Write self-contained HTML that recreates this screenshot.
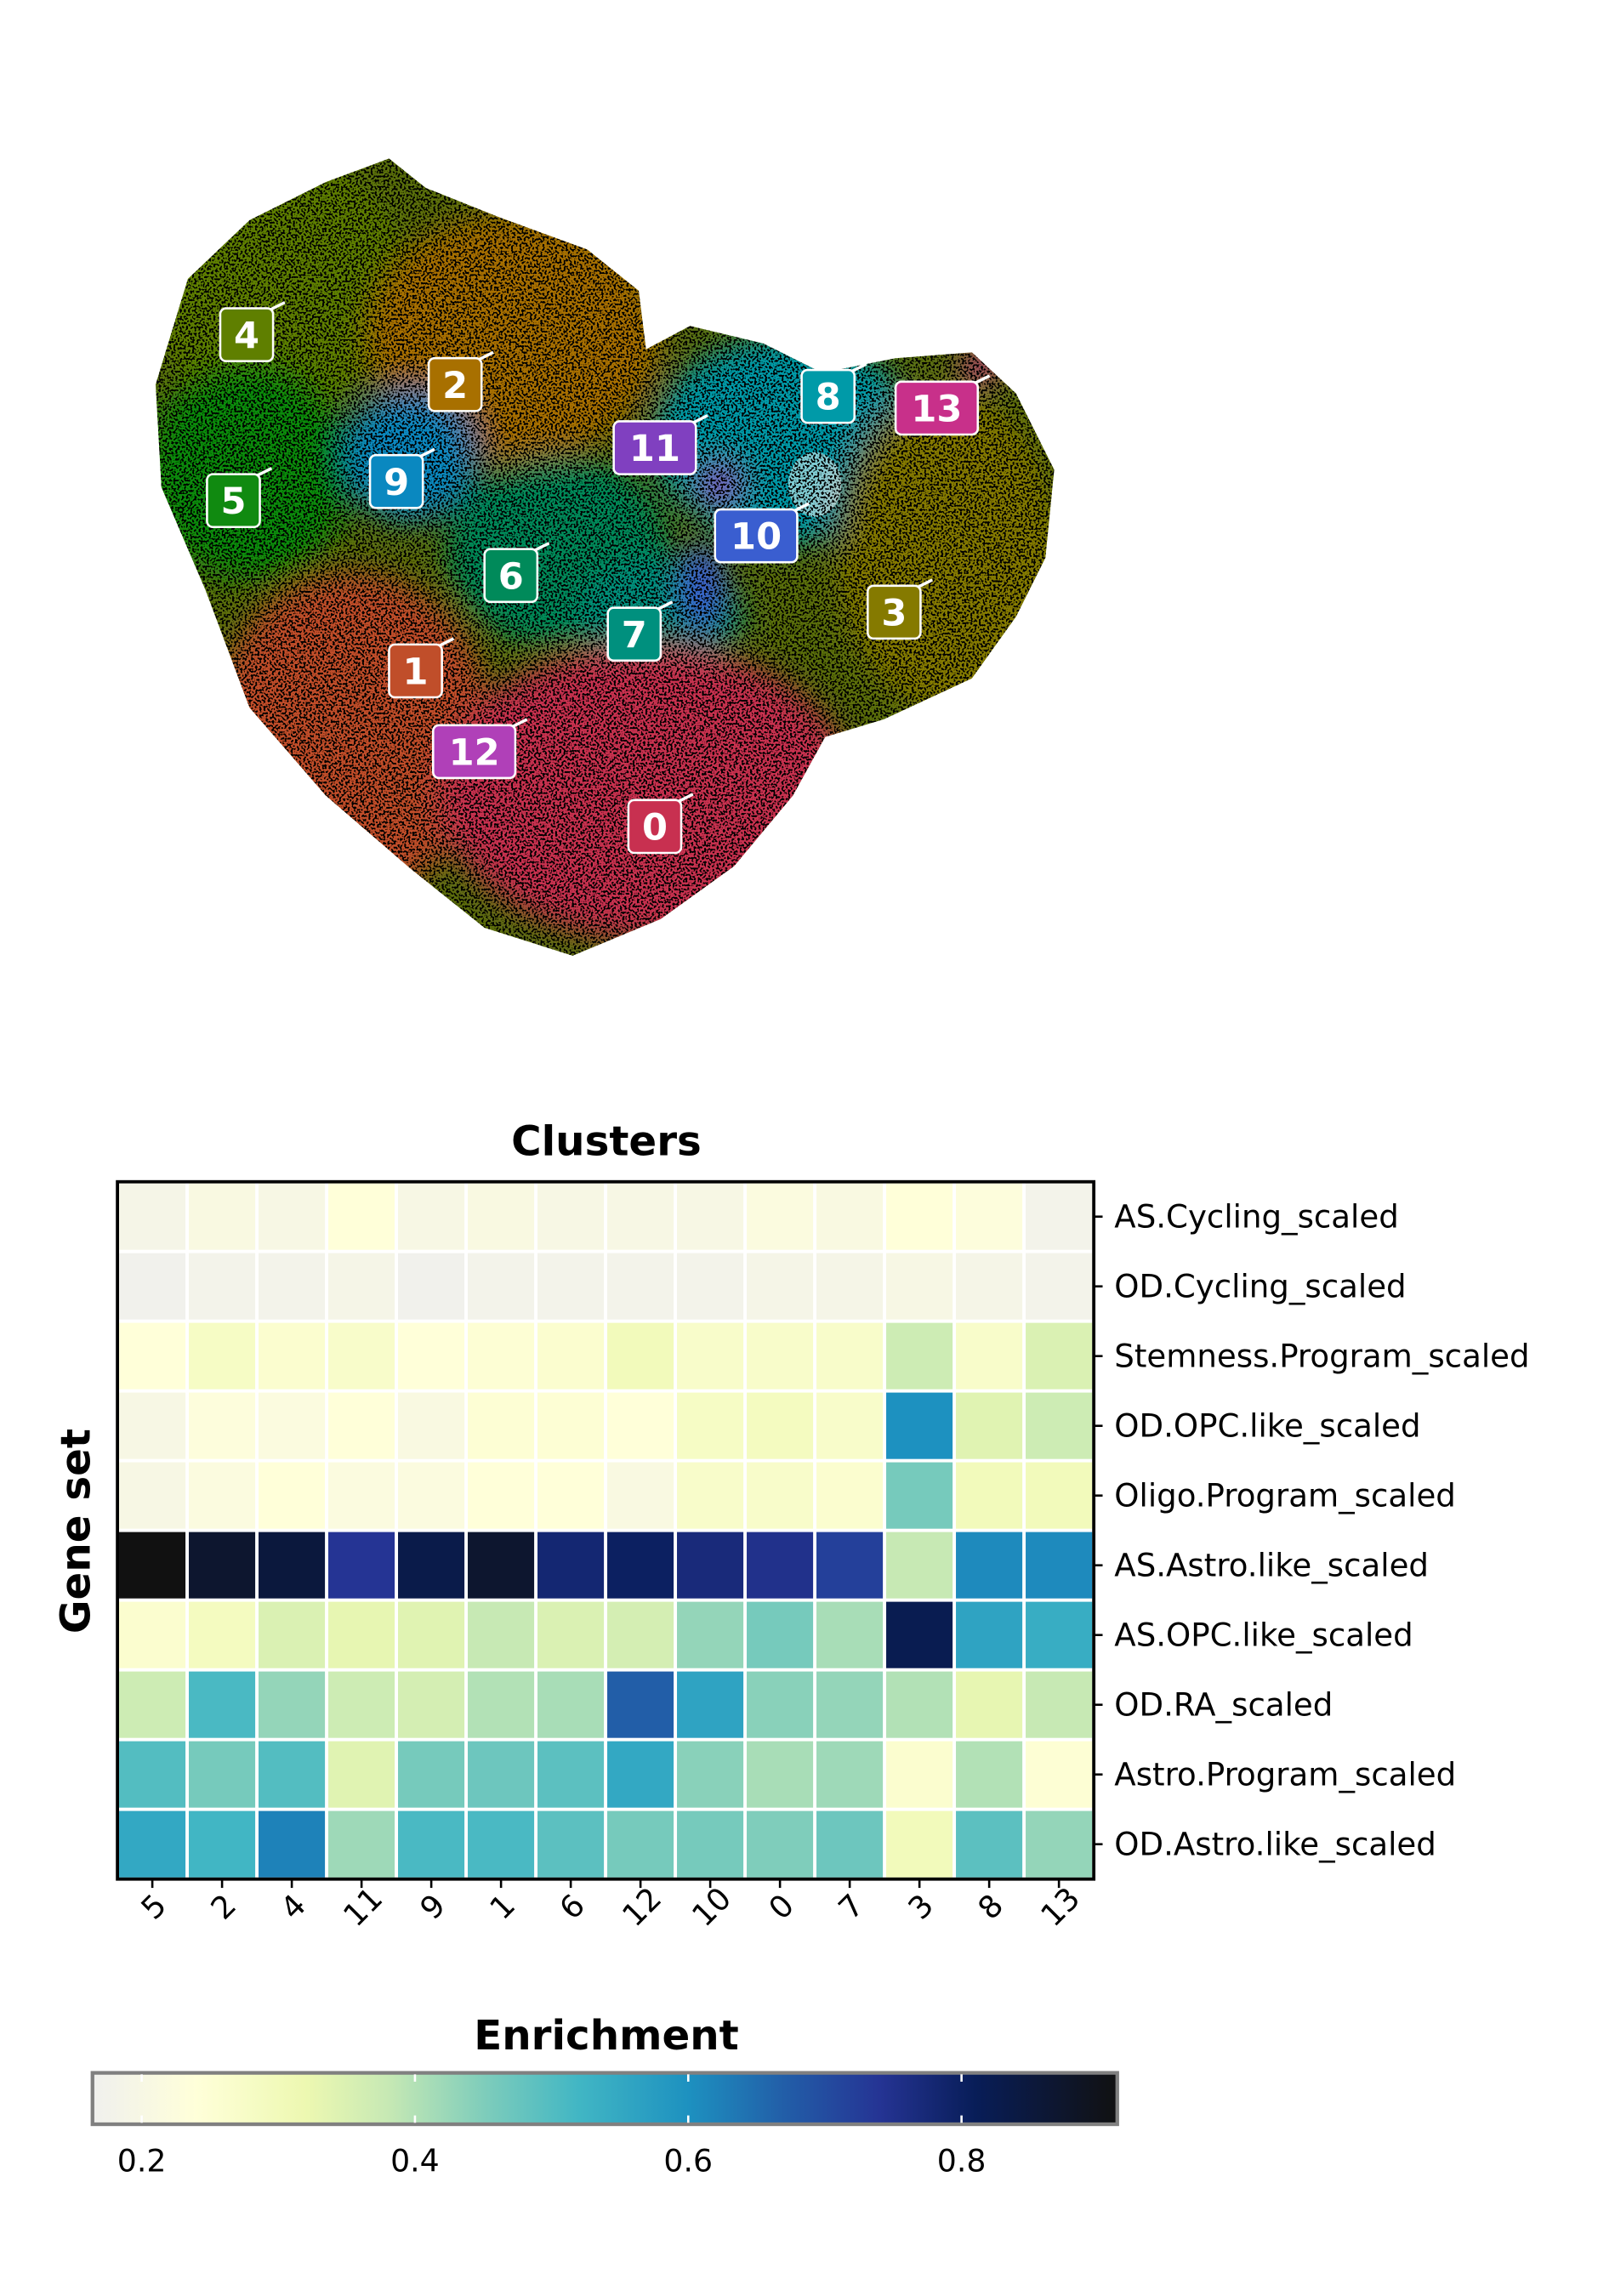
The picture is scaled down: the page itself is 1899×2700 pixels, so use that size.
<!DOCTYPE html>
<html><head><meta charset="utf-8"><style>
html,body{margin:0;padding:0;background:#fff;}
svg{display:block;}
text{font-family:"DejaVu Sans","Liberation Sans",sans-serif;}
</style></head><body>
<svg id="root" width="1899" height="2700" viewBox="0 0 1100 1564" preserveAspectRatio="none">
<defs>
<clipPath id="blob"><path d="M265,108 L290,128 L340,148 L400,170 L435,198 L440,238 L470,222 L520,234 L560,254 L610,244 L662,240 L692,268 L718,320 L712,380 L692,420 L662,462 L602,490 L562,502 L540,542 L500,590 L450,626 L390,651 L330,632 L280,592 L222,542 L170,482 L140,402 L110,332 L106,262 L128,190 L170,150 L222,124 Z"/></clipPath>
<filter id="sp" x="0" y="0" width="100%" height="100%">
<feTurbulence type="fractalNoise" baseFrequency="0.7" numOctaves="1" seed="3" result="n"/>
<feColorMatrix in="n" type="matrix" values="0 0 0 0 0  0 0 0 0 0  0 0 0 0 0  0 0 0 -14 7.1" result="a"/>
<feComposite in="a" in2="SourceAlpha" operator="in" result="d"/>
<feMerge><feMergeNode in="SourceGraphic"/><feMergeNode in="d"/></feMerge>
</filter>
<filter id="bl"><feGaussianBlur stdDeviation="10"/></filter>
<linearGradient id="cbgrad" x1="0" x2="1" y1="0" y2="0"></linearGradient>
</defs>

<g filter="url(#sp)">
<g clip-path="url(#blob)">
<rect x="100" y="100" width="630" height="560" fill="#5a6e10"/>
<g filter="url(#bl)">
<ellipse cx="190" cy="195" rx="90" ry="90" fill="#5f7f00"/>
<ellipse cx="350" cy="230" rx="100" ry="85" fill="#a87000"/>
<ellipse cx="170" cy="320" rx="70" ry="75" fill="#108a10"/>
<ellipse cx="280" cy="310" rx="45" ry="45" fill="#0a88c0"/>
<ellipse cx="535" cy="300" rx="90" ry="70" fill="#009aa8"/>
<ellipse cx="380" cy="375" rx="75" ry="65" fill="#008a5a"/>
<ellipse cx="450" cy="420" rx="55" ry="40" fill="#00907e"/>
<ellipse cx="645" cy="375" rx="75" ry="110" fill="#857a00"/>
<ellipse cx="240" cy="500" rx="95" ry="110" fill="#c04e2a"/>
<ellipse cx="440" cy="540" rx="140" ry="100" fill="#c83050"/>
<ellipse cx="490" cy="330" rx="14" ry="14" fill="#8040c0"/>
<ellipse cx="478" cy="400" rx="16" ry="30" fill="#3a5ed0"/>
<ellipse cx="668" cy="250" rx="15" ry="10" fill="#c8308a"/>
</g>
<ellipse cx="555" cy="330" rx="18" ry="22" fill="#fff" opacity="0.5"/>
</g>
</g>
<g id="umap-labels"></g>

<text x="413" y="787" text-anchor="middle" font-size="28" font-weight="bold">Clusters</text>
<text transform="translate(61,1043) rotate(-90)" text-anchor="middle" font-size="28" font-weight="bold">Gene set</text>
<g id="heat"></g>

<text x="413" y="1396" text-anchor="middle" font-size="28" font-weight="bold">Enrichment</text>
<g id="cbar"></g>
</svg>
<script>
const clusters = ["5","2","4","11","9","1","6","12","10","0","7","3","8","13"];
const geneSets = ["AS.Cycling_scaled","OD.Cycling_scaled","Stemness.Program_scaled","OD.OPC.like_scaled","Oligo.Program_scaled","AS.Astro.like_scaled","AS.OPC.like_scaled","OD.RA_scaled","Astro.Program_scaled","OD.Astro.like_scaled"];
const rowASCycling   = [0.19,0.21,0.20,0.24,0.20,0.21,0.20,0.20,0.20,0.22,0.21,0.24,0.23,0.18];
const rowODCycling   = [0.17,0.18,0.18,0.19,0.17,0.18,0.18,0.18,0.18,0.19,0.19,0.20,0.19,0.18];
const rowStemness    = [0.24,0.28,0.26,0.27,0.24,0.25,0.26,0.30,0.27,0.27,0.27,0.37,0.27,0.35];
const rowODOPC       = [0.20,0.23,0.22,0.24,0.21,0.25,0.25,0.24,0.28,0.29,0.27,0.60,0.34,0.37];
const rowOligo       = [0.20,0.22,0.24,0.22,0.22,0.24,0.24,0.21,0.27,0.27,0.26,0.46,0.30,0.30];
const rowASAstro     = [0.92,0.87,0.85,0.74,0.83,0.87,0.78,0.80,0.77,0.75,0.72,0.38,0.61,0.61];
const rowASOPC       = [0.26,0.29,0.35,0.33,0.34,0.38,0.35,0.36,0.43,0.46,0.41,0.82,0.56,0.54];
const rowODRA        = [0.37,0.51,0.43,0.37,0.36,0.40,0.41,0.67,0.56,0.44,0.43,0.40,0.33,0.38];
const rowAstroProg   = [0.50,0.46,0.50,0.34,0.46,0.47,0.49,0.55,0.44,0.41,0.42,0.26,0.40,0.25];
const rowODAstro     = [0.55,0.52,0.62,0.42,0.51,0.51,0.49,0.46,0.46,0.45,0.47,0.30,0.49,0.43];
const heatValues = [rowASCycling,rowODCycling,rowStemness,rowODOPC,rowOligo,rowASAstro,rowASOPC,rowODRA,rowAstroProg,rowODAstro];
const cbTicks = [0.2,0.4,0.6,0.8];
const cbTickLabels = ["0.2","0.4","0.6","0.8"];
const cbMin = 0.164, cbMax = 0.914;
const cmapStops = [[0.164,"#f0f0ee"],[0.24,"#ffffd9"],[0.32,"#edf8b1"],[0.38,"#c7e9b4"],[0.45,"#7fcdbb"],[0.52,"#41b6c4"],[0.60,"#1d91c0"],[0.67,"#225ea8"],[0.74,"#253494"],[0.81,"#081d58"],[0.914,"#111111"]];
const umapLabels = ["4","2","5","9","11","8","13","10","6","7","3","1","12","0"];
const umapLabelX = [168,310,159,270,446,564,638,515,348,432,609,283,323,446];
const umapLabelY = [228,262,341,328,305,270,278,365,392,432,417,457,512,563];
const umapLabelColor = ["#5f7f00","#a87000","#108a10","#0a88c0","#8040c0","#009aa8","#c8308a","#3a5ed0","#008a5a","#00907e","#857a00","#c04e2a","#b040b8","#c83050"];

const NS="http://www.w3.org/2000/svg";
function mk(tag,attrs,parent){const e=document.createElementNS(NS,tag);for(const k in attrs)e.setAttribute(k,attrs[k]);parent.appendChild(e);return e;}
function hex(h){return [parseInt(h.slice(1,3),16),parseInt(h.slice(3,5),16),parseInt(h.slice(5,7),16)];}
function cmap(v){
  if(v<=cmapStops[0][0])return cmapStops[0][1];
  for(let i=1;i<cmapStops.length;i++){
    if(v<=cmapStops[i][0]){const a=cmapStops[i-1],b=cmapStops[i];const t=(v-a[0])/(b[0]-a[0]);const ca=hex(a[1]),cb=hex(b[1]);
      return "rgb("+ca.map((c,j)=>Math.round(c+(cb[j]-c)*t)).join(",")+")";}
  }
  return cmapStops[cmapStops.length-1][1];
}
// heatmap
const hx0=80,hx1=745,hy0=805,hy1=1280;
const cw=(hx1-hx0)/clusters.length, ch=(hy1-hy0)/geneSets.length;
const xPos=i=>hx0+i*cw, yPos=j=>hy0+j*ch;
const heat=document.getElementById('heat');
heatValues.forEach((row,j)=>{
  row.forEach((v,i)=>{
    const r=mk('rect',{x:xPos(i),y:yPos(j),width:cw,height:ch,fill:cmap(v),stroke:"#fff","stroke-width":2.2},heat);
    
    
  });
});
const frame=mk('rect',{x:hx0,y:hy0,width:hx1-hx0,height:hy1-hy0,fill:"none",stroke:"#000","stroke-width":2.2},heat);


geneSets.forEach((g,j)=>{
  const yc=yPos(j)+ch/2;
  mk('line',{x1:hx1,x2:hx1+6,y1:yc,y2:yc,stroke:"#000","stroke-width":1.5},heat);
  const t=mk('text',{x:759,y:yc+7.5,"font-size":21.5},heat);
  t.textContent=g;
  
  
});
clusters.forEach((c,i)=>{
  const xc=xPos(i)+cw/2;
  mk('line',{x1:xc,x2:xc,y1:hy1,y2:hy1+6,stroke:"#000","stroke-width":1.5},heat);
  const t=mk('text',{transform:`translate(${xc+6},${1304}) rotate(-45)`,"text-anchor":"middle","font-size":21},heat);
  t.textContent=c;
  
  
});
// colorbar
const grad=document.getElementById('cbgrad');
cmapStops.forEach(s=>{mk('stop',{offset:((s[0]-cbMin)/(cbMax-cbMin)*100)+"%","stop-color":s[1]},grad);});
const cb=document.getElementById('cbar');
const cx0=63,cx1=761,cy0=1412,cy1=1447;
const cbX=v=>cx0+(v-cbMin)/(cbMax-cbMin)*(cx1-cx0);
const cbr=mk('rect',{x:cx0,y:cy0,width:cx1-cx0,height:cy1-cy0,fill:"url(#cbgrad)",stroke:"#808080","stroke-width":2.5},cb);


cbTicks.forEach((v,i)=>{
  const x=cbX(v);
  mk('line',{x1:x,x2:x,y1:cy0+1,y2:cy0+6,stroke:"#fff","stroke-width":1.5},cb);
  mk('line',{x1:x,x2:x,y1:cy1-6,y2:cy1-1,stroke:"#fff","stroke-width":1.5},cb);
  const t=mk('text',{x:x,y:1479,"text-anchor":"middle","font-size":21},cb);
  t.textContent=cbTickLabels[i];
  
  
});
// umap labels
const ul=document.getElementById('umap-labels');
umapLabels.forEach((l,i)=>{
  const w=l.length>1?56:36, h=36, x=umapLabelX[i], y=umapLabelY[i];
  mk('line',{x1:x+w/2-8,y1:y-h/2+4,x2:x+w/2+8,y2:y-h/2-4,stroke:"#fff","stroke-width":2},ul);
  const r=mk('rect',{x:x-w/2,y:y-h/2,width:w,height:h,rx:4,fill:umapLabelColor[i],stroke:"#fff","stroke-width":1.5},ul);
  
  
  const t=mk('text',{x:x,y:y+9,"text-anchor":"middle","font-size":25,"font-weight":"bold",fill:"#fff"},ul);
  t.textContent=l;
  
  
});
</script>
</body></html>
